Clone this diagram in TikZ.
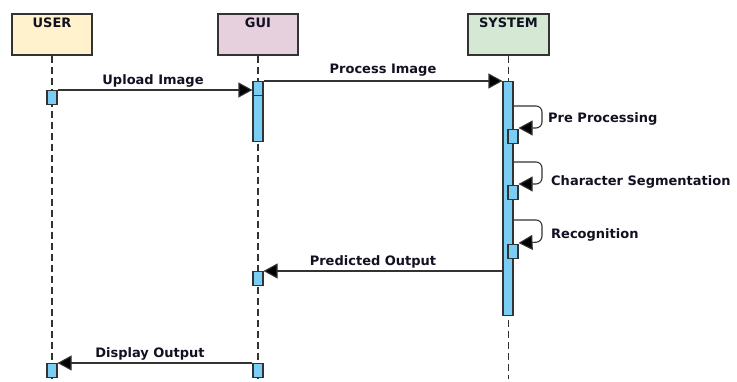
\documentclass[tikz,border=0pt]{standalone}
\usepackage{fontspec}
\setmainfont{DejaVu Sans}
\usetikzlibrary{arrows.meta,calc}
\definecolor{userfill}{HTML}{FFF2CC}
\definecolor{guifill}{HTML}{E6D0DE}
\definecolor{sysfill}{HTML}{D5E8D4}
\definecolor{actfill}{HTML}{7BCEF3}
\definecolor{edge}{HTML}{333333}
\definecolor{txt}{HTML}{111122}
\tikzset{
  head/.style={draw=edge, line width=1.3pt, minimum width=80pt, minimum height=41pt, inner sep=0pt},
  headtext/.style={font=\bfseries\fontsize{13}{15}\selectfont, text=txt, inner sep=0pt},
  lifeline/.style={draw=edge, line width=1.2pt, dash pattern=on 7pt off 4pt},
  act/.style={draw=edge, line width=1.1pt, fill=actfill, minimum width=10pt, inner sep=0pt, anchor=north},
  msg/.style={draw=edge, line width=1.1pt, -{Triangle[length=14pt,width=15pt,fill=black]}},
  lbl/.style={font=\bfseries\fontsize{13}{15}\selectfont, text=txt, inner sep=0pt}
}
\begin{document}
\begin{tikzpicture}[x=1pt,y=-1pt]
\useasboundingbox (0,0) rectangle (737,382);
% heads
\node[head, fill=userfill] (user) at (52,34.5) {};
\node[head, fill=guifill] (gui) at (258,34.5) {};
\node[head, fill=sysfill, minimum width=81pt] (sys) at (508.5,34.5) {};
\node[headtext] (userT) at (52,23) {USER};
\node[headtext] (guiT) at (258,23) {GUI};
\node[headtext] (sysT) at (508.5,23) {SYSTEM};
% lifeline ends
\coordinate (userEnd) at (52,379);
\coordinate (guiEnd) at (258,379);
\coordinate (sysEnd) at (508.5,379);
\draw[lifeline] (user.south) -- (userEnd);
\draw[lifeline] (gui.south) -- (guiEnd);
\draw[lifeline] (sys.south) -- (sysEnd);
% activations
\node[act, minimum height=14pt] (ua1) at (52,90) {};
\node[act, minimum height=60pt] (ga1) at (258,81) {};
\node[act, minimum height=14pt] (ga2) at (258,81) {};
\node[act, minimum height=234pt] (sa1) at (508,81) {};
\node[act, minimum height=14pt] (sa2) at (513,129) {};
\node[act, minimum height=14pt] (sa3) at (513,185) {};
\node[act, minimum height=14pt] (sa4) at (513,244) {};
\node[act, minimum height=14pt] (ga3) at (258,271) {};
\node[act, minimum height=14pt] (ga4) at (258,363) {};
\node[act, minimum height=14pt] (ua2) at (52,363) {};
% messages
\draw[msg] (ua1.north east) -- (ua1.north east -| ga1.west);
\node[lbl] (l1) at (153,80.5) {Upload Image};
\draw[msg] (ga1.north east) -- (sa1.north west);
\node[lbl] (l2) at (383,70.5) {Process Image};
% self calls
\coordinate (s1) at (513,106);
\coordinate (s2) at (513,162);
\coordinate (s3) at (513,220);
\draw[msg, rounded corners=6pt] (s1) -- ++(29,0) -- ++(0,22) -- ($(sa2.north east)+(0,-1)$);
\draw[msg, rounded corners=6pt] (s2) -- ++(29,0) -- ++(0,22) -- ($(sa3.north east)+(0,-1)$);
\draw[msg, rounded corners=6pt] (s3) -- ++(29,0) -- ++(0,22) -- ($(sa4.north east)+(0,-1)$);
\node[lbl, anchor=west] (l3) at (548,118.5) {Pre Processing};
\node[lbl, anchor=west] (l4) at (551,181.5) {Character Segmentation};
\node[lbl, anchor=west] (l5) at (551,234.5) {Recognition};
\draw[msg] (sa1.west |- ga3.north) -- (ga3.north east);
\node[lbl] (l6) at (373,261.5) {Predicted Output};
\draw[msg] (ga4.north west) -- (ua2.north east);
\node[lbl] (l7) at (150,353.5) {Display Output};
\end{tikzpicture}
\end{document}
